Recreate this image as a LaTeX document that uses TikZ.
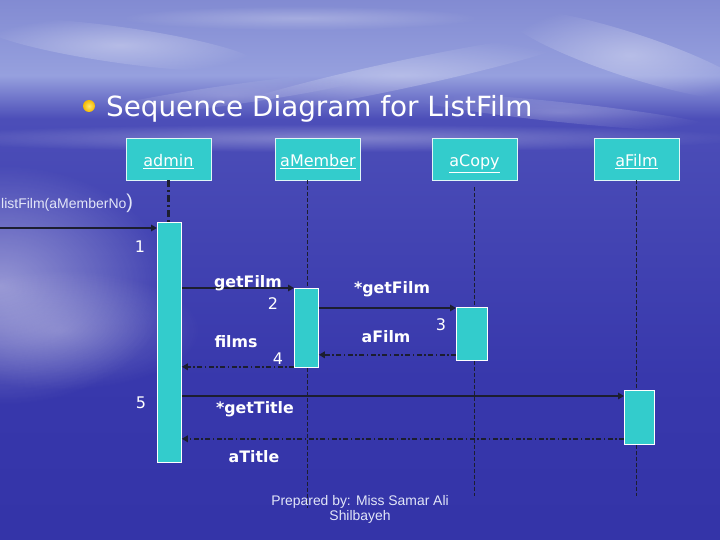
\documentclass[tikz,border=0pt]{standalone}
\usepackage{fontspec}
\setmainfont{DejaVu Sans}
\newfontfamily\arialf{Liberation Sans}
\usetikzlibrary{arrows.meta,fadings,calc}
\definecolor{turq}{RGB}{51,204,204}
\definecolor{linedark}{RGB}{28,30,48}
\definecolor{skytop}{RGB}{100,106,192}
\definecolor{skymid}{RGB}{122,130,205}
\definecolor{horizon}{RGB}{150,160,222}
\definecolor{oceantop}{RGB}{76,78,184}
\definecolor{oceanmid}{RGB}{56,56,172}
\definecolor{oceanbot}{RGB}{44,44,160}
\definecolor{goldin}{RGB}{255,232,110}
\definecolor{goldout}{RGB}{245,185,0}
\definecolor{paletext}{RGB}{226,230,248}
\pgfdeclareverticalshading{bgshade}{100bp}{color(0bp)=(oceanbot); color(40bp)=(oceanmid); color(64bp)=(oceantop); color(68bp)=(horizon); color(78bp)=(skymid); color(100bp)=(skytop)}
\tikzfading[name=softout, inner color=transparent!0, outer color=transparent!100]
\tikzset{
  obj/.style={draw=white!85!turq, line width=0.8pt, fill=turq, minimum width=85pt, minimum height=42pt, inner sep=0pt, text height=12pt, text depth=4pt, text=white, font=\fontsize{16}{16}\selectfont},
  act/.style={draw=white, line width=0.8pt, fill=turq, inner sep=0pt, anchor=north west},
  msg/.style={draw=linedark, line width=2.8pt, -{Triangle[length=6pt,width=6.5pt]}},
  ret/.style={draw=linedark, line width=1.9pt, dash pattern=on 5pt off 2.5pt on 1.5pt off 2.5pt, -{Triangle[length=6pt,width=6.5pt]}},
  life/.style={draw=linedark, line width=0.8pt, dash pattern=on 4pt off 2pt},
  adminlife/.style={draw=linedark, line width=2.8pt, dash pattern=on 7pt off 3pt on 2pt off 3pt},
  lbl/.style={text=white, inner sep=0pt, font=\bfseries\fontsize{15.8}{16}\selectfont},
  num/.style={text=white, inner sep=0pt, font=\fontsize{16}{16}\selectfont},
  cloud/.style={white, path fading=softout, fill opacity=#1},
}
\begin{document}
\begin{tikzpicture}[x=1pt,y=-1pt]
% background
\useasboundingbox (0,0) rectangle (720,540);
\shade[shading=bgshade] (0,0) rectangle (720,540);
\fill[cloud=0.45] (0,285) ellipse (170pt and 120pt);
\fill[cloud=0.25] (60,330) ellipse (140pt and 60pt);
\fill[cloud=0.30] (330,138) ellipse (420pt and 14pt);
\fill[cloud=0.35, rotate around={-8:(120,45)}] (120,45) ellipse (140pt and 18pt);
\fill[cloud=0.30, rotate around={12:(400,75)}] (400,75) ellipse (190pt and 14pt);
\fill[cloud=0.35, rotate around={-18:(630,55)}] (630,55) ellipse (130pt and 22pt);
\fill[cloud=0.25] (300,18) ellipse (180pt and 12pt);
\fill[cloud=0.25, rotate around={-6:(560,112)}] (560,112) ellipse (160pt and 10pt);
\fill[cloud=0.20, rotate around={8:(230,95)}] (230,95) ellipse (150pt and 10pt);

% title
\shade[inner color=goldin, outer color=goldout] (89,106) circle (6pt);
\node[anchor=base west, inner sep=0pt, text=white, font=\fontsize{27.8}{30}\selectfont] (title) at (106,117) {Sequence Diagram for ListFilm};

% objects
\node[obj] (admin) at (168.5,159) {\raisebox{-4pt}{\underline{admin}}};
\node[obj] (aMember) at (318,159) {\raisebox{-4pt}{\underline{aMember}}};
\node[obj] (aCopy) at (474.5,159) {\raisebox{-4pt}{\underline{aCopy}}};
\node[obj] (aFilm) at (636.5,159) {\raisebox{-4pt}{\underline{aFilm}}};

% activations
\node[act, minimum width=24pt, minimum height=240pt] (A1) at (157,222) {};
\node[act, minimum width=24pt, minimum height=79pt] (A2) at (294,288) {};
\node[act, minimum width=31pt, minimum height=53pt] (A3) at (456,307) {};
\node[act, minimum width=30pt, minimum height=54pt] (A4) at (624,390) {};

% lifelines
\coordinate (mEnd) at (307,508);
\coordinate (cEnd) at (474,496);
\coordinate (fEnd) at (636,496);
\draw[adminlife] (admin.south) -- (admin.south |- A1.north);
\draw[life] (mEnd |- aMember.south) -- (A2.north -| mEnd);
\draw[life] (A2.south -| mEnd) -- (mEnd);
\draw[life] ($(cEnd |- aCopy.south)+(0,7)$) -- (A3.north -| cEnd);
\draw[life] (A3.south -| cEnd) -- (cEnd);
\draw[life] (fEnd |- aFilm.south) -- (A4.north -| fEnd);
\draw[life] (A4.south -| fEnd) -- (fEnd);

% messages
\coordinate (start) at (0,228);
\draw[msg] (start) -- (start -| A1.west);
\draw[msg] (A2.north west -| A1.east) -- (A2.north west);
\draw[msg] ([yshift=-1pt]A3.north west -| A2.east) -- ([yshift=-1pt]A3.north west);
\draw[ret] ([yshift=6pt]A3.south west) -- ([yshift=6pt]A3.south west -| A2.east);
\draw[ret] ([yshift=1pt]A2.south west) -- ([yshift=1pt]A2.south west -| A1.east);
\draw[msg] ([yshift=-6pt]A4.north west -| A1.east) -- ([yshift=-6pt]A4.north west);
\draw[ret] ([yshift=6pt]A4.south west) -- ([yshift=6pt]A4.south west -| A1.east);

% labels
\node[anchor=base west, inner sep=0pt, text=paletext, font=\arialf\fontsize{14}{14}\selectfont] (lf) at (1,209) {listFilm(aMemberNo{\fontsize{20}{20}\selectfont)}};
\node[num] (n1) at (140,247) {1};
\node[lbl] (l2) at (248,283) {getFilm};
\node[num] (n2) at (273,304) {2};
\node[lbl] (l3) at (392,289) {*getFilm};
\node[num] (n3) at (441,325) {3};
\node[lbl] (l3r) at (386,337) {aFilm};
\node[lbl] (l4) at (236,342) {films};
\node[num] (n4) at (278,359) {4};
\node[num] (n5) at (141,403) {5};
\node[lbl] (l5) at (255,409) {*getTitle};
\node[lbl] (l5r) at (254,457) {aTitle};
\node[align=center, inner sep=0pt, text=paletext, font=\arialf\fontsize{13.9}{15.5}\selectfont] (prep) at (360,509.5) {Prepared by: Miss Samar Ali\\Shilbayeh};
\end{tikzpicture}
\end{document}
